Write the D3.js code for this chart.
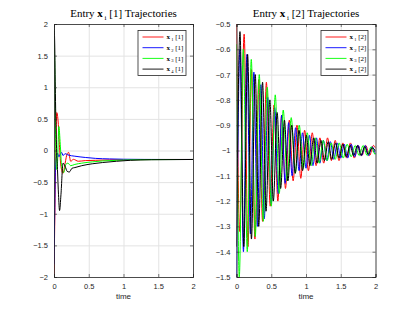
<!DOCTYPE html>
<html>
<head>
<meta charset="utf-8">
<script src="https://cdn.jsdelivr.net/npm/d3@7"></script>
<style>
  body { margin: 0; background: #fff; }
  svg { display: block; }
</style>
</head>
<body>
<div class="graph-div"></div>
<script>
var outerWidth = 415;
var outerHeight = 312;

// ---- data: entry [1] ----
var red1T   = [0, 0.01, 0.025, 0.04, 0.06, 0.08, 0.1, 0.13, 0.16, 0.19, 0.21, 0.24, 0.28, 0.35, 0.45, 0.6, 0.8, 1.0, 1.3, 1.6, 2.0];
var red1V   = [-2.0, -1.2, -0.1, 0.6, 0.45, 0.05, -0.25, -0.36, -0.2, -0.05, -0.03, -0.17, -0.14, -0.17, -0.16, -0.155, -0.148, -0.145, -0.143, -0.142, -0.142];
var blue1T  = [0, 0.01, 0.02, 0.035, 0.05, 0.07, 0.09, 0.11, 0.13, 0.16, 0.2, 0.3, 0.45, 0.6, 0.8, 1.0, 1.3, 1.6, 2.0];
var blue1V  = [-1.8, -1.0, -0.3, -0.1, -0.04, -0.1, -0.06, -0.03, -0.08, -0.05, -0.07, -0.09, -0.11, -0.125, -0.133, -0.138, -0.141, -0.142, -0.142];
var green1T = [0, 0.01, 0.02, 0.035, 0.05, 0.07, 0.09, 0.11, 0.14, 0.17, 0.2, 0.24, 0.3, 0.4, 0.55, 0.7, 0.9, 1.1, 1.4, 2.0];
var green1V = [1.9, 1.4, 0.4, -0.3, -0.2, 0.38, 0.1, -0.25, -0.35, -0.22, -0.2, -0.24, -0.22, -0.2, -0.18, -0.165, -0.155, -0.148, -0.144, -0.142];
var black1T = [0, 0.01, 0.02, 0.035, 0.05, 0.065, 0.08, 0.1, 0.13, 0.16, 0.19, 0.22, 0.26, 0.3, 0.4, 0.55, 0.7, 0.9, 1.1, 1.4, 2.0];
var black1V = [2.0, 1.7, 0.9, 0.1, -0.3, -0.7, -0.95, -0.7, -0.2, -0.25, -0.33, -0.34, -0.28, -0.27, -0.24, -0.21, -0.19, -0.17, -0.155, -0.146, -0.142];

// ---- data: entry [2] (turning points of the oscillations) ----
var red2T = [0, 0.045, 0.11, 0.165, 0.215, 0.265, 0.32, 0.375, 0.43, 0.485, 0.54, 0.595, 0.65, 0.705, 0.76, 0.815, 0.87, 0.925, 0.98, 1.035, 1.09, 1.145, 1.2, 1.255, 1.31, 1.365, 1.42, 1.475, 1.53, 1.585, 1.64, 1.695, 1.75, 1.805, 1.86, 1.915, 1.97, 2.0];
var red2V = [-0.5, -1.32, -0.54, -1.38, -0.68, -1.35, -0.72, -1.28, -0.73, -1.22, -0.82, -1.2, -0.86, -1.15, -0.88, -1.12, -0.9, -1.11, -0.92, -1.08, -0.93, -1.06, -0.95, -1.05, -0.95, -1.04, -0.96, -1.04, -0.97, -1.03, -0.97, -1.03, -0.98, -1.02, -0.98, -1.02, -0.98, -0.99];
var blue2T = [0, 0.05, 0.1, 0.15, 0.2, 0.25, 0.3, 0.35, 0.4, 0.45, 0.5, 0.55, 0.6, 0.65, 0.7, 0.75, 0.8, 0.85, 0.9, 0.95, 1.0, 1.05, 1.1, 1.15, 1.2, 1.25, 1.3, 1.35, 1.4, 1.45, 1.5, 1.55, 1.6, 1.65, 1.7, 1.75, 1.8, 1.85, 1.9, 1.95, 2.0];
var blue2V = [-1.5, -0.6, -1.4, -0.62, -1.33, -0.69, -1.3, -0.74, -1.27, -0.79, -1.21, -0.83, -1.17, -0.86, -1.13, -0.89, -1.1, -0.91, -1.08, -0.93, -1.07, -0.94, -1.06, -0.95, -1.05, -0.96, -1.04, -0.965, -1.035, -0.97, -1.03, -0.975, -1.03, -0.975, -1.025, -0.98, -1.02, -0.98, -1.02, -0.985, -1.015];
var green2T = [0, 0.04, 0.0975, 0.155, 0.2125, 0.27, 0.3275, 0.385, 0.4425, 0.5, 0.5575, 0.615, 0.6725, 0.73, 0.7875, 0.845, 0.9025, 0.96, 1.0175, 1.075, 1.1325, 1.19, 1.2475, 1.305, 1.3625, 1.42, 1.4775, 1.535, 1.5925, 1.65, 1.7075, 1.765, 1.8225, 1.88, 1.9375, 1.995, 2.0];
var green2V = [-0.58, -1.5, -0.6, -1.4, -0.64, -1.34, -0.7, -1.28, -0.75, -1.22, -0.78, -1.17, -0.84, -1.12, -0.87, -1.09, -0.9, -1.07, -0.93, -1.06, -0.95, -1.05, -0.96, -1.04, -0.97, -1.035, -0.97, -1.03, -0.975, -1.025, -0.98, -1.02, -0.98, -1.02, -0.985, -1.015, -1.01];
var black2T = [0, 0.05, 0.105, 0.16, 0.215, 0.27, 0.32, 0.375, 0.425, 0.48, 0.53, 0.585, 0.635, 0.69, 0.74, 0.795, 0.845, 0.9, 0.95, 1.005, 1.055, 1.11, 1.16, 1.215, 1.265, 1.32, 1.37, 1.425, 1.475, 1.53, 1.58, 1.635, 1.685, 1.74, 1.79, 1.845, 1.895, 1.95, 2.0];
var black2V = [-1.38, -0.53, -1.38, -0.62, -1.35, -0.7, -1.3, -0.73, -1.24, -0.8, -1.2, -0.85, -1.15, -0.88, -1.12, -0.9, -1.09, -0.92, -1.08, -0.94, -1.06, -0.95, -1.05, -0.96, -1.04, -0.965, -1.035, -0.97, -1.03, -0.975, -1.025, -0.98, -1.02, -0.98, -1.02, -0.985, -1.015, -0.99, -1.0];

var xTickVals = [0, 0.5, 1, 1.5, 2];
var yTicks1 = [-2, -1.5, -1, -0.5, 0, 0.5, 1, 1.5, 2];
var yTicks2 = [-1.5, -1.4, -1.3, -1.2, -1.1, -1, -0.9, -0.8, -0.7, -0.6, -0.5];
var seriesColors = ["#ff0000", "#0000ff", "#00ff00", "#000000"];
var seriesIdx = ["1", "2", "3", "4"];

var panels = [
  { left: 54, right: 193, entry: "1", yDomain: [-2, 2], yTicks: yTicks1,
    series: [[red1T, red1V], [blue1T, blue1V], [green1T, green1V], [black1T, black1V]],
    legend: { x: 138, y: 30.5, w: 48, h: 45 } },
  { left: 236.5, right: 375.5, entry: "2", yDomain: [-1.5, -0.5], yTicks: yTicks2,
    series: [[red2T, red2V], [blue2T, blue2V], [green2T, green2V], [black2T, black2V]],
    legend: { x: 321, y: 30.5, w: 47, h: 45 } }
];
var plotTop = 24, plotBottom = 277;
var axisColor = "#262626";

var svg = d3.select(".graph-div").append("svg")
    .attr("width", outerWidth)
    .attr("height", outerHeight);

function fmt(v) {
  return d3.format("")(+v.toFixed(2));
}

panels.forEach(function(p) {
  var xScale = d3.scaleLinear().domain([0, 2]).range([p.left, p.right]);
  var yScale = d3.scaleLinear().domain(p.yDomain).range([plotBottom, plotTop]);
  var g = svg.append("g");

  // grid
  g.append("g").attr("transform", "translate(0," + plotBottom + ")")
    .call(d3.axisBottom(xScale).tickValues(xTickVals).tickSize(-(plotBottom - plotTop)).tickFormat(""))
    .call(function(a) { a.select(".domain").remove(); a.selectAll("line").attr("stroke", "#e3e3e3"); });
  g.append("g").attr("transform", "translate(" + p.left + ",0)")
    .call(d3.axisLeft(yScale).tickValues(p.yTicks).tickSize(-(p.right - p.left)).tickFormat(""))
    .call(function(a) { a.select(".domain").remove(); a.selectAll("line").attr("stroke", "#e3e3e3"); });

  // lines
  var line = d3.line()
      .x(function(d) { return xScale(d[0]); })
      .y(function(d) { return yScale(d[1]); })
      .curve(d3.curveMonotoneX);
  var clipId = "clip" + p.entry;
  svg.append("clipPath").attr("id", clipId).append("rect")
    .attr("x", p.left).attr("y", plotTop - 1).attr("width", p.right - p.left).attr("height", plotBottom - plotTop + 2);
  p.series.forEach(function(s, i) {
    var pts = s[0].map(function(t, k) { return [t, s[1][k]]; });
    g.append("path")
      .attr("d", line(pts))
      .attr("fill", "none")
      .attr("stroke", seriesColors[i])
      .attr("stroke-width", 1)
      .attr("clip-path", "url(#" + clipId + ")");
  });

  // axes with inward ticks on all sides
  var xAxisB = d3.axisBottom(xScale).tickValues(xTickVals).tickSize(-3).tickPadding(7).tickFormat(fmt);
  var xAxisT = d3.axisTop(xScale).tickValues(xTickVals).tickSize(-3).tickFormat("");
  var yAxisL = d3.axisLeft(yScale).tickValues(p.yTicks).tickSize(-3).tickPadding(6).tickFormat(fmt);
  var yAxisR = d3.axisRight(yScale).tickValues(p.yTicks).tickSize(-3).tickFormat("");
  [[xAxisB, "translate(0," + plotBottom + ")"], [xAxisT, "translate(0," + plotTop + ")"],
   [yAxisL, "translate(" + p.left + ",0)"], [yAxisR, "translate(" + p.right + ",0)"]].forEach(function(a) {
    g.append("g").attr("transform", a[1]).call(a[0])
      .call(function(sel) {
        sel.select(".domain").attr("stroke", axisColor).attr("stroke-width", 0.8);
        sel.selectAll("line").attr("stroke", axisColor).attr("stroke-width", 0.6);
        sel.selectAll("text").attr("fill", axisColor)
          .style("font-family", "'Liberation Sans', Arial, sans-serif").style("font-size", "7.5px");
      });
  });

  // x label
  g.append("text")
    .attr("x", (p.left + p.right) / 2).attr("y", 298.5)
    .attr("text-anchor", "middle")
    .attr("fill", axisColor)
    .style("font-family", "'Liberation Sans', Arial, sans-serif").style("font-size", "8px")
    .text("time");

  // title
  var title = g.append("text")
    .attr("x", (p.left + p.right) / 2).attr("y", 16.5)
    .attr("text-anchor", "middle")
    .attr("fill", "#000")
    .style("font-family", "'Liberation Serif', 'Times New Roman', serif").style("font-size", "11px");
  title.append("tspan").text("Entry ");
  title.append("tspan").attr("font-weight", "bold").text("x");
  title.append("tspan").attr("dy", 3).style("font-size", "7px").text(" i");
  title.append("tspan").attr("dy", -3).text(" [" + p.entry + "] Trajectories");

  // legend
  var L = p.legend;
  g.append("rect")
    .attr("x", L.x).attr("y", L.y).attr("width", L.w).attr("height", L.h)
    .attr("fill", "#fff").attr("stroke", axisColor).attr("stroke-width", 0.8);
  seriesIdx.forEach(function(k, i) {
    var yy = L.y + 6.5 + i * 10.7;
    g.append("line")
      .attr("x1", L.x + 4.5).attr("x2", L.x + 25.5).attr("y1", yy).attr("y2", yy)
      .attr("stroke", seriesColors[i]).attr("stroke-width", 0.9);
    var t = g.append("text")
      .attr("x", L.x + 28.5).attr("y", yy + 2.2)
      .attr("fill", "#000")
      .style("font-family", "'Liberation Serif', 'Times New Roman', serif").style("font-size", "7px");
    t.append("tspan").attr("font-weight", "bold").text("x");
    t.append("tspan").attr("dy", 1.8).style("font-size", "4.5px").text(" " + k);
    t.append("tspan").attr("dy", -1.8).text(" [" + p.entry + "]");
  });
});
</script>
</body>
</html>
